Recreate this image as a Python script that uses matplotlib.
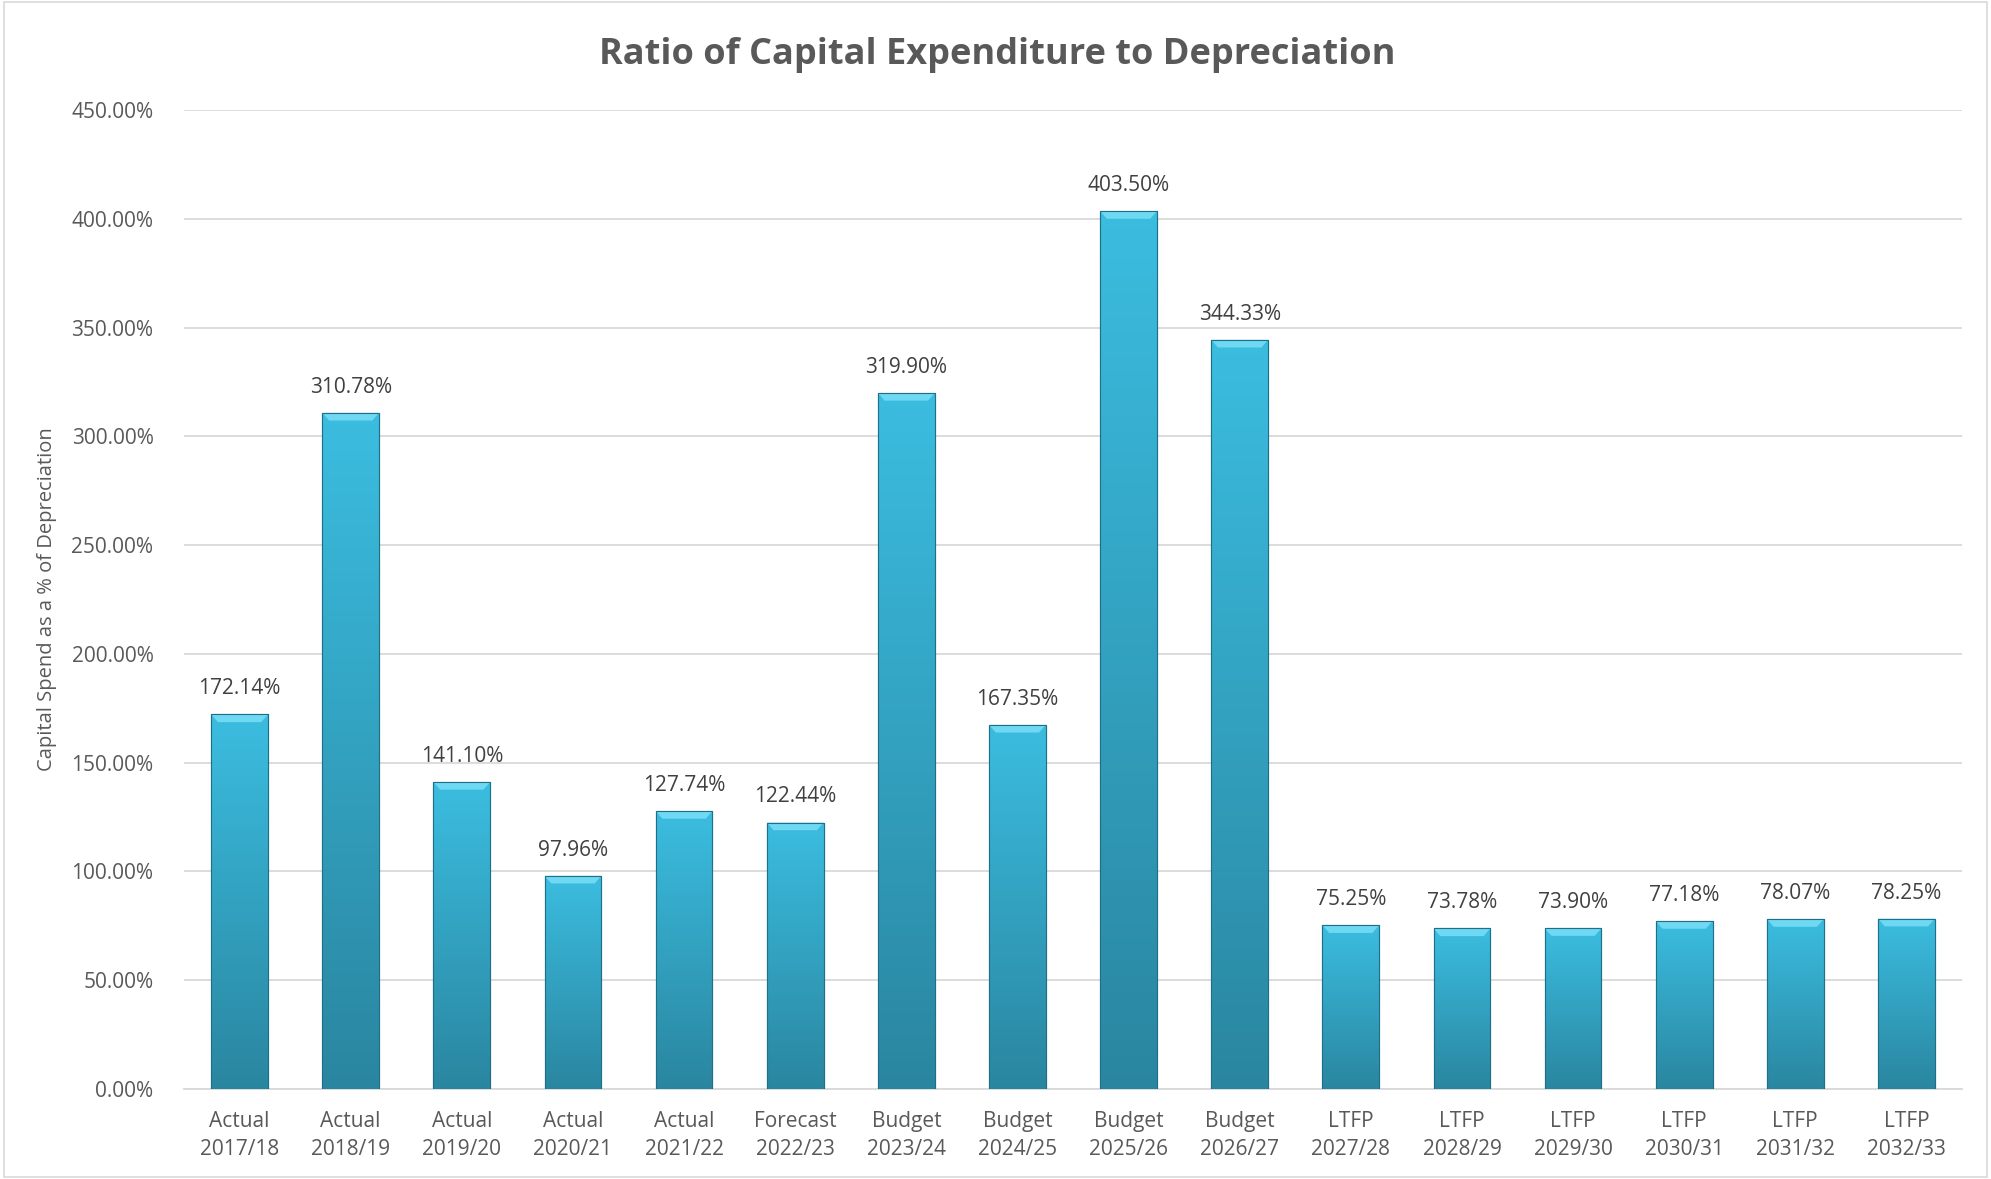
import numpy as np
import matplotlib.pyplot as plt
from matplotlib.patches import Rectangle, Polygon
from matplotlib.colors import LinearSegmentedColormap

kinds = ["Actual"] * 5 + ["Forecast"] + ["Budget"] * 4 + ["LTFP"] * 6
years = ["2017/18", "2018/19", "2019/20", "2020/21", "2021/22", "2022/23",
         "2023/24", "2024/25", "2025/26", "2026/27", "2027/28", "2028/29",
         "2029/30", "2030/31", "2031/32", "2032/33"]
ratio = [172.14, 310.78, 141.10, 97.96, 127.74, 122.44, 319.90, 167.35,
         403.50, 344.33, 75.25, 73.78, 73.90, 77.18, 78.07, 78.25]

plt.rcParams['font.family'] = ['Open Sans', 'DejaVu Sans']
grey = "#595959"

fig = plt.figure(figsize=(19.91, 11.79), dpi=100)
ax = fig.add_axes([184/1991, 1-1089/1179, (1962-184)/1991, (1089-110)/1179])

x = np.arange(len(ratio))
w = 0.51
bars = ax.bar(x, ratio, width=w, color="#33aacb", edgecolor="#1f6f86", linewidth=0.8, zorder=3)

# shaded look: gradient fill + bevelled top
cmap = LinearSegmentedColormap.from_list("bar", ["#2a86a0", "#3bbde0"])
grad = np.linspace(0, 1, 256).reshape(-1, 1)
for b in bars:
    x0, h = b.get_x(), b.get_height()
    im = ax.imshow(grad, cmap=cmap, origin="lower", aspect="auto",
                   extent=[x0, x0 + w, 0, h], zorder=3.5)
    im.set_clip_path(b)
    bev = 3.5
    ax.add_patch(Polygon([[x0, h], [x0 + w, h], [x0 + w - 0.06, h - bev], [x0 + 0.06, h - bev]],
                         closed=True, facecolor="#6fd8f2", edgecolor="none", zorder=4))
    ax.add_patch(Rectangle((x0, 0), w, h, facecolor="none", edgecolor="#1f6f86", lw=0.8, zorder=4.5))
    ax.text(x0 + w / 2, h + 7, f"{h:.2f}%", ha="center", va="bottom", fontsize=15, color="#404040")

ax.set_xlim(-0.5, len(ratio) - 0.5)
ax.set_ylim(0, 450)
ax.set_yticks(np.arange(0, 451, 50))
ax.set_yticklabels([f"{v:.2f}%" for v in np.arange(0, 451, 50)])
ax.set_xticks(x)
ax.set_xticklabels([f"{k}\n{y}" for k, y in zip(kinds, years)], linespacing=1.45)
ax.tick_params(axis="both", length=0, labelsize=15, colors=grey)
ax.tick_params(axis="x", pad=16)
ax.tick_params(axis="y", pad=22)
ax.grid(axis="y", color="#d9d9d9", lw=1.3, zorder=0)
for s in ["top", "right", "left"]:
    ax.spines[s].set_visible(False)
ax.spines["bottom"].set_color("#d9d9d9")
ax.spines["bottom"].set_linewidth(1.3)

ax.set_ylabel("Capital Spend as a % of Depreciation", fontsize=14.5, color=grey, labelpad=10)
fig.text(997/1991, 1-55/1179, "Ratio of Capital Expenditure to Depreciation",
         ha="center", va="center", fontsize=26, fontweight="bold", color=grey)

fig.add_artist(Rectangle((0.002, 0.002), 0.996, 0.996, transform=fig.transFigure,
                         fill=False, edgecolor="#d9d9d9", lw=1.2))

plt.savefig("out.png", dpi=100)
